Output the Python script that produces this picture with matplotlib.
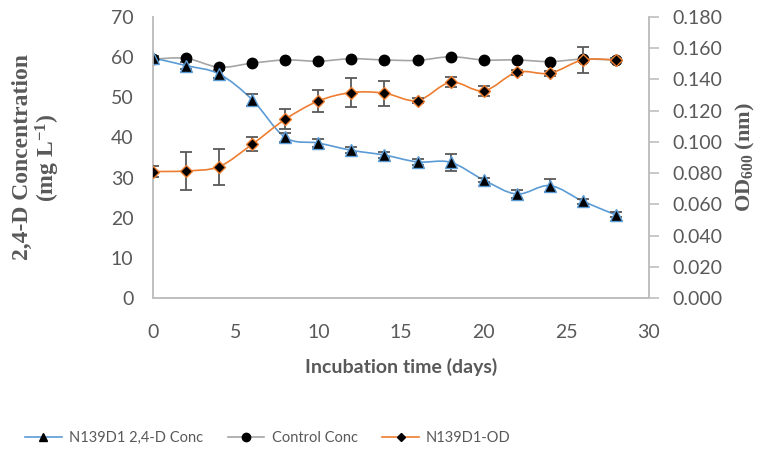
import numpy as np
import matplotlib.pyplot as plt
from matplotlib.path import Path
from matplotlib.patches import PathPatch
from matplotlib.lines import Line2D

plt.rcParams['mathtext.fontset'] = 'custom'
plt.rcParams['mathtext.rm'] = 'Liberation Serif:bold'
plt.rcParams['mathtext.bf'] = 'Liberation Serif:bold'
plt.rcParams['mathtext.default'] = 'bf'

dias = [0, 2, 4, 6, 8, 10, 12, 14, 16, 18, 20, 22, 24, 26, 28]
conc_n139 = [59.8, 57.9, 55.8, 49.4, 40.0, 38.6, 36.8, 35.6, 33.9, 33.8, 29.4, 25.9, 28.0, 24.1, 20.7]
err_n139 = [0.6, 0.8, 0.9, 1.5, 1.2, 0.9, 0.7, 0.8, 0.8, 2.1, 0.6, 1.1, 1.7, 0.6, 0.6]
conc_control = [59.5, 59.7, 57.5, 58.5, 59.3, 59.0, 59.6, 59.3, 59.2, 60.1, 59.3, 59.3, 58.9, 59.5, 59.3]
od_n139 = [0.0810, 0.0814, 0.0842, 0.0985, 0.1145, 0.1262, 0.1316, 0.1312, 0.1265,
           0.1382, 0.1327, 0.1446, 0.1440, 0.1525, 0.1525]
err_od = [0.0034, 0.0120, 0.0115, 0.0045, 0.0064, 0.0069, 0.0094, 0.0081, 0.0015,
          0.0032, 0.0032, 0.0015, 0.0015, 0.0081, 0.0015]

azul = '#5B9BD5'
gris = '#A5A5A5'
naranja = '#ED7D31'
texto = '#595959'
fuente = 'Lato'


def curva_suave(ax, x, y, color):
    # linea suavizada tipo Excel (Catmull-Rom -> Bezier)
    p = np.column_stack([x, y]).astype(float)
    verts = [p[0]]
    codes = [Path.MOVETO]
    for i in range(len(p) - 1):
        p0 = p[i - 1] if i > 0 else p[i]
        p3 = p[i + 2] if i + 2 < len(p) else p[i + 1]
        c1 = p[i] + (p[i + 1] - p0) / 6
        c2 = p[i + 1] - (p3 - p[i]) / 6
        verts += [c1, c2, p[i + 1]]
        codes += [Path.CURVE4] * 3
    ax.add_patch(PathPatch(Path(verts, codes), fill=False, edgecolor=color, lw=1.2, zorder=2))


fig = plt.figure(figsize=(7.66, 4.57), dpi=100)
ax = fig.add_axes([153 / 766, 1 - 298 / 457, 496 / 766, 281 / 457])
ax2 = ax.twinx()

curva_suave(ax, dias, conc_control, gris)
ax.errorbar(dias, conc_n139, yerr=err_n139, fmt='none', ecolor=texto, elinewidth=1.3, capsize=4, capthick=1.3, zorder=3)
curva_suave(ax, dias, conc_n139, azul)
ax.plot(dias, conc_control, 'o', color='black', ms=7.5, zorder=4)
ax.plot(dias, conc_n139, '^', color='black', mec=azul, mew=1, ms=8.5, zorder=4)

ax2.errorbar(dias, od_n139, yerr=err_od, fmt='none', ecolor=texto, elinewidth=1.3, capsize=4, capthick=1.3, zorder=3)
curva_suave(ax2, dias, od_n139, naranja)
ax2.plot(dias, od_n139, 'D', color='black', mec=naranja, mew=1, ms=6.5, zorder=4)

ax.set_xlim(0, 30)
ax.set_ylim(0, 70)
ax2.set_ylim(0, 0.18)
ax.set_xticks(range(0, 31, 5))
ax.set_yticks(range(0, 71, 10))
ax2.set_yticks(np.arange(0, 0.181, 0.02))
ax2.set_yticklabels(['%.3f' % v for v in np.arange(0, 0.181, 0.02)])

for a in (ax, ax2):
    for s in a.spines.values():
        s.set_color('#BFBFBF')
        s.set_linewidth(1.2)
    a.spines['top'].set_visible(False)
ax.tick_params(axis='x', length=0, labelsize=14, labelcolor=texto, pad=19)
ax.tick_params(axis='y', length=0, labelsize=14, labelcolor=texto, pad=14)
ax2.tick_params(axis='y', length=7, width=1.2, color='#BFBFBF', labelsize=14, labelcolor=texto, pad=10)
for lab in ax.get_xticklabels() + ax.get_yticklabels() + ax2.get_yticklabels():
    lab.set_fontfamily(fuente)

ax.set_xlabel('Incubation time (days)', fontsize=14, fontweight='bold', color=texto, fontfamily=fuente, labelpad=12)
ax.set_ylabel('2,4-D Concentration\n(mg L$^{-1}$)', fontsize=17, fontweight='bold', color=texto,
              fontfamily='Liberation Serif', linespacing=1.05)
ax.yaxis.set_label_coords(-0.183, 0.5)
ax2.set_ylabel('OD$_{600}$ (nm)', fontsize=16, fontweight='bold', color=texto,
               fontfamily='Liberation Serif', labelpad=8)

handles = [
    Line2D([], [], color=azul, marker='^', mfc='black', mec='black', ms=6, lw=1.2),
    Line2D([], [], color=gris, marker='o', mfc='black', mec='black', ms=6, lw=1.2),
    Line2D([], [], color=naranja, marker='D', mfc='black', mec='black', ms=4.5, lw=1.2),
]
fig.legend(handles, ['N139D1 2,4-D Conc', 'Control Conc', 'N139D1-OD'], loc='center',
           bbox_to_anchor=(268 / 766, 1 - 438 / 457), ncol=3, frameon=False, handlelength=2.5,
           handletextpad=0.5, columnspacing=1.7, prop={'family': fuente, 'size': 10.5}, labelcolor=texto)

fig.savefig('out.png', dpi=100)
